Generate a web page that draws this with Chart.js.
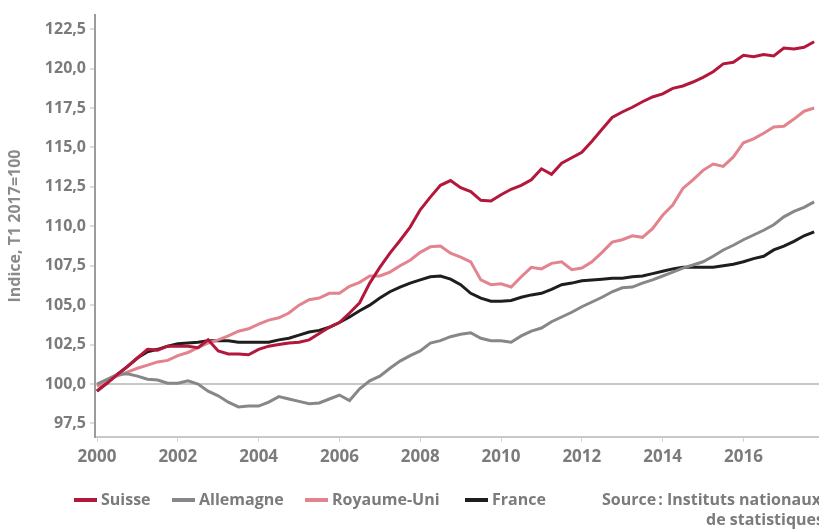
<!DOCTYPE html>
<html>
<head>
<meta charset="utf-8">
<script src="https://cdn.jsdelivr.net/npm/chart.js@4"></script>
<style>
  html, body { margin: 0; padding: 0; background: #ffffff; }
  #wrap { width: 819px; height: 529px; position: relative; }
</style>
</head>
<body>
<div id="wrap"><canvas id="c" width="819" height="529"></canvas></div>
<script>
// Quarterly observations, 2000 T1 .. 2017 T4
const quarters = [];
for (let y = 2000; y <= 2017; y++) for (let q = 1; q <= 4; q++) quarters.push(y + 'T' + q);

const xTickYears = [2000, 2002, 2004, 2006, 2008, 2010, 2012, 2014, 2016];
const yTickValues = [97.5, 100, 102.5, 105, 107.5, 110, 112.5, 115, 117.5, 120, 122.5];

const seriesNames = ['Suisse', 'Allemagne', 'Royaume-Uni', 'France'];
const seriesColors = ['#b3173b', '#87878b', '#e2838d', '#1e1e1e'];

const suisse = [
  99.55, 100.05, 100.6, 101.1, 101.65, 102.2, 102.15, 102.4, 102.4, 102.4, 102.3, 102.8,
  102.1, 101.9, 101.9, 101.85, 102.2, 102.4, 102.5, 102.6, 102.65, 102.8, 103.2, 103.6,
  103.9, 104.5, 105.15, 106.4, 107.4, 108.3, 109.1, 109.95, 111.05, 111.85, 112.6, 112.9,
  112.45, 112.2, 111.65, 111.6, 112.0, 112.35, 112.6, 112.95, 113.65, 113.3, 114.0, 114.35,
  114.7, 115.4, 116.15, 116.9, 117.25, 117.55, 117.9, 118.2, 118.4, 118.75, 118.9, 119.15,
  119.45, 119.8, 120.3, 120.4, 120.85, 120.75, 120.9, 120.8, 121.3, 121.25, 121.35, 121.7
];
const allemagne = [
  100.0, 100.3, 100.6, 100.65, 100.5, 100.3, 100.25, 100.05, 100.05, 100.2, 100.0, 99.55,
  99.25, 98.85, 98.55, 98.6, 98.6, 98.85, 99.2, 99.05, 98.9, 98.75, 98.8, 99.05,
  99.3, 98.95, 99.7, 100.2, 100.5, 101.0, 101.45, 101.8, 102.1, 102.6, 102.75, 103.0,
  103.15, 103.25, 102.9, 102.75, 102.75, 102.65, 103.05, 103.35, 103.55, 103.95, 104.25, 104.55,
  104.9, 105.2, 105.5, 105.85, 106.1, 106.15, 106.4, 106.6, 106.85, 107.1, 107.35, 107.55,
  107.75, 108.1, 108.5, 108.8, 109.15, 109.45, 109.75, 110.1, 110.6, 110.95, 111.2, 111.55
];
const royaumeUni = [
  99.85, 100.25, 100.5, 100.75, 101.0, 101.2, 101.4, 101.5, 101.8, 102.0, 102.3, 102.6,
  102.8, 103.05, 103.35, 103.5, 103.8, 104.05, 104.2, 104.5, 105.0, 105.35, 105.45, 105.75,
  105.75, 106.2, 106.45, 106.85, 106.85, 107.1, 107.5, 107.85, 108.35, 108.7, 108.75, 108.3,
  108.05, 107.75, 106.6, 106.3, 106.35, 106.15, 106.8, 107.4, 107.3, 107.65, 107.75, 107.25,
  107.35, 107.75, 108.35, 109.0, 109.15, 109.4, 109.3, 109.85, 110.7, 111.35, 112.4, 112.95,
  113.55, 113.95, 113.8, 114.4, 115.3, 115.55, 115.9, 116.3, 116.35, 116.8, 117.3, 117.5
];
const france = [
  99.55, 100.1, 100.6, 101.1, 101.65, 102.05, 102.2, 102.4, 102.55, 102.6, 102.65, 102.75,
  102.75, 102.75, 102.65, 102.65, 102.65, 102.65, 102.8, 102.9, 103.1, 103.3, 103.4, 103.6,
  103.9, 104.25, 104.65, 105.0, 105.45, 105.85, 106.15, 106.4, 106.6, 106.8, 106.85, 106.65,
  106.3, 105.75, 105.45, 105.25, 105.25, 105.3, 105.5, 105.65, 105.75, 106.0, 106.3, 106.4,
  106.55, 106.6, 106.65, 106.7, 106.7, 106.8, 106.85, 107.0, 107.15, 107.3, 107.4, 107.4,
  107.4, 107.4, 107.5, 107.6, 107.75, 107.95, 108.1, 108.5, 108.75, 109.05, 109.4, 109.65
];
const seriesValues = [suisse, allemagne, royaumeUni, france];

const yAxisTitle = 'Indice, T1 2017=100';
const sourceLines = ['Source\u202f: Instituts nationaux', 'de statistiques'];

const quarterToX = (label) => {
  const y = parseInt(label.slice(0, 4), 10);
  const q = parseInt(label.slice(5), 10);
  return y + (q - 1) / 4;
};

const FONT = '"Open Sans", Lato, sans-serif';
const TEXT_GREY = '#7b7b7e';

const datasets = seriesNames.map((name, i) => ({
  label: name,
  data: quarters.map((q, k) => ({ x: quarterToX(q), y: seriesValues[i][k] })),
  borderColor: seriesColors[i],
  backgroundColor: seriesColors[i],
  borderWidth: 3,
  pointRadius: 0,
  tension: 0,
  fill: false
}));

const legendItems = [
  { sx: 74, tx: 101 },
  { sx: 172, tx: 199 },
  { sx: 305, tx: 332 },
  { sx: 465, tx: 492 }
];

const overlayPlugin = {
  id: 'overlay',
  afterDraw(chart) {
    const ctx = chart.ctx;
    ctx.save();
    const ly = 500;
    ctx.font = 'bold 16px ' + FONT;
    ctx.textBaseline = 'middle';
    ctx.textAlign = 'left';
    chart.data.datasets.forEach((ds, i) => {
      const p = legendItems[i];
      ctx.fillStyle = ds.borderColor;
      ctx.fillRect(p.sx, ly - 2, 23, 4);
      ctx.fillStyle = TEXT_GREY;
      ctx.fillText(ds.label, p.tx, ly);
    });
    ctx.fillStyle = TEXT_GREY;
    ctx.fillText(sourceLines[0], 602, ly);
    ctx.fillText(sourceLines[1], 706, ly + 20);
    ctx.restore();
  }
};

new Chart(document.getElementById('c'), {
  type: 'line',
  data: { datasets },
  plugins: [overlayPlugin],
  options: {
    responsive: false,
    animation: false,
    events: [],
    layout: { padding: { top: 15, right: 0, bottom: 60, left: 0 } },
    plugins: { legend: { display: false }, tooltip: { enabled: false } },
    scales: {
      x: {
        type: 'linear',
        min: 1999.95,
        max: 2017.87,
        afterFit: (s) => { s.height = 32; },
        afterBuildTicks: (s) => { s.ticks = xTickYears.map(v => ({ value: v })); },
        border: { display: true, color: '#c9c9c9', width: 2 },
        grid: { drawOnChartArea: false, drawTicks: true, tickLength: 5, tickColor: '#d5d5d5' },
        ticks: {
          color: TEXT_GREY,
          font: { family: FONT, size: 17, weight: 'bold' },
          padding: 5,
          maxRotation: 0,
          autoSkip: false,
          callback: (v) => String(v)
        }
      },
      y: {
        type: 'linear',
        min: 96.64,
        max: 123.4,
        afterFit: (s) => { s.width = 95; },
        afterBuildTicks: (s) => { s.ticks = yTickValues.map(v => ({ value: v })); },
        border: { display: true, color: '#9b9b9b', width: 2 },
        grid: {
          drawOnChartArea: true,
          drawTicks: true,
          tickLength: 5,
          tickColor: '#dcdcdc',
          color: (ctx) => (ctx.tick && ctx.tick.value === 100 ? '#c8c8c8' : 'rgba(0,0,0,0)'),
          lineWidth: 2
        },
        ticks: {
          color: TEXT_GREY,
          font: { family: FONT, size: 16, weight: 'bold' },
          padding: 4,
          autoSkip: false,
          callback: (v) => v.toFixed(1).replace('.', ',')
        },
        title: {
          display: true,
          text: yAxisTitle,
          color: '#8a8a8c',
          font: { family: FONT, size: 16, weight: 'bold' },
          padding: { top: 6, bottom: 0 }
        }
      }
    }
  }
});
</script>
</body>
</html>
